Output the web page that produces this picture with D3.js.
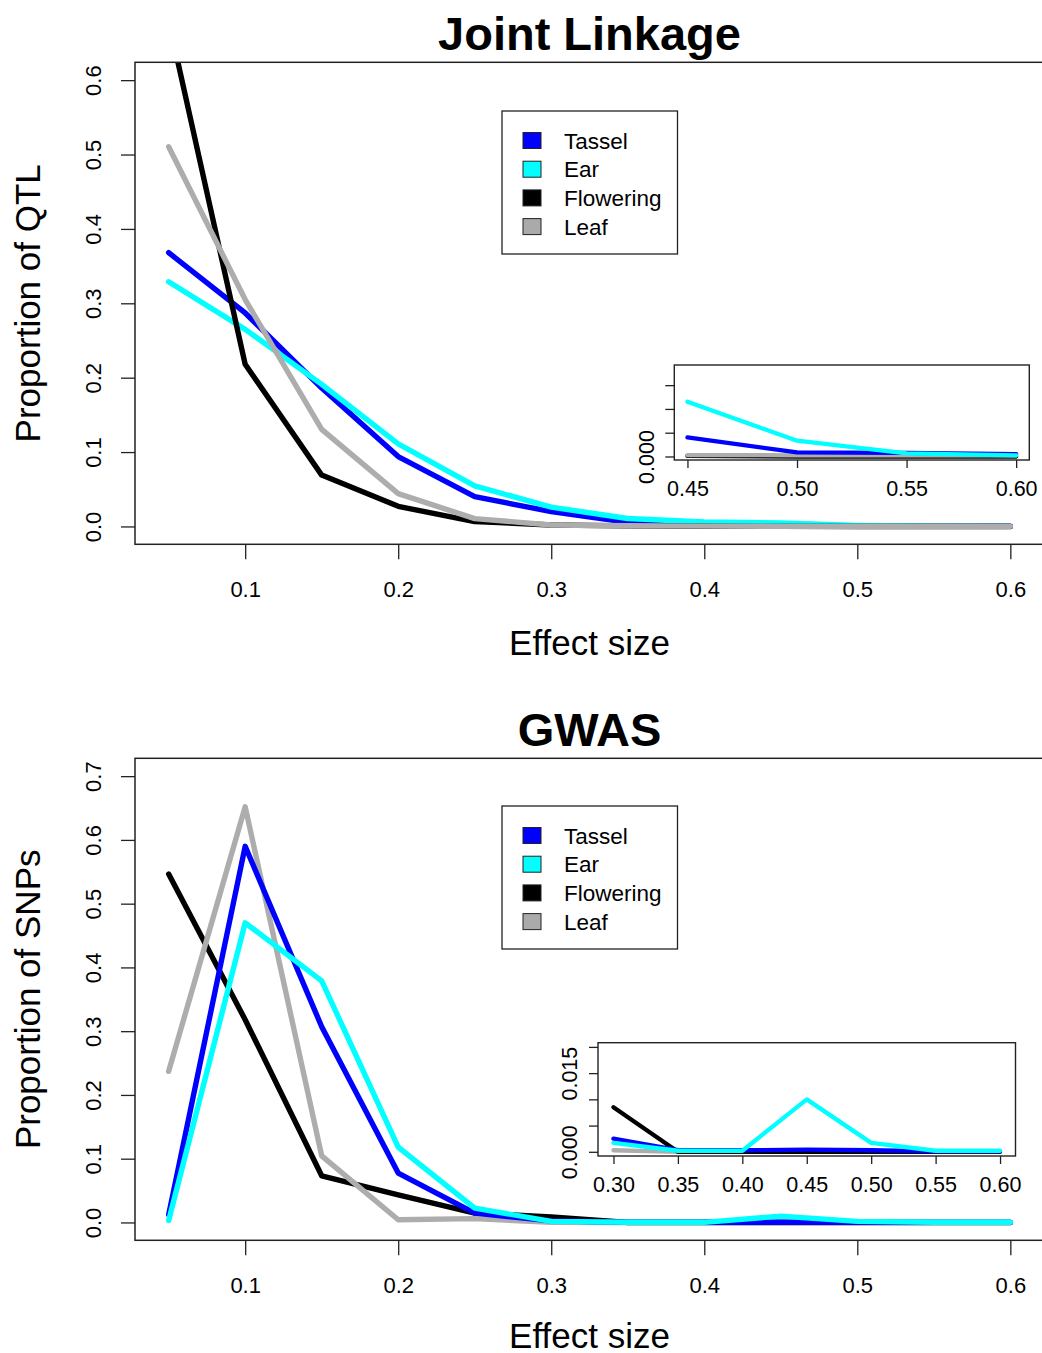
<!DOCTYPE html>
<html>
<head>
<meta charset="utf-8">
<script src="https://cdn.jsdelivr.net/npm/d3@7"></script>
<style>
  html, body { margin: 0; padding: 0; background: #fff; }
  svg { display: block; }
  text { font-family: "Liberation Sans", Arial, Helvetica, sans-serif; fill: #000; }
</style>
</head>
<body>
<div id="chart"></div>
<script>
// ---------------- data ----------------
const effectSize = [0.05, 0.10, 0.15, 0.20, 0.25, 0.30, 0.35, 0.40, 0.45, 0.50, 0.55, 0.60];
const seriesNames = ["Tassel", "Ear", "Flowering", "Leaf"];
const seriesColors = ["#0000ff", "#00ffff", "#000000", "#adadad"];

// Joint Linkage: proportion of QTL
const jlTassel    = [0.368, 0.287, 0.186, 0.094, 0.040, 0.020, 0.0055, 0.0028, 0.0016, 0.00034, 0.0003, 0.0002];
const jlEar       = [0.329, 0.265, 0.191, 0.111, 0.0545, 0.026, 0.0107, 0.006, 0.0046, 0.00133, 0.00026, 0.0001];
const jlFlowering = [0.68, 0.218, 0.069, 0.027, 0.0065, 0.002, 0.0008, 0.0003, 0.00005, 0, 0, 0];
const jlLeaf      = [0.5105, 0.305, 0.1305, 0.0442, 0.0105, 0.002, 0.001, 0.0005, 0.00012, 0.0001, 0.0001, 0.0001];

// GWAS: proportion of SNPs
const gwasTassel    = [0.012, 0.590, 0.307, 0.0774, 0.0147, 0.0025, 0.0003, 0.0003, 0.0004, 0.0003, 0.0001, 0.0001];
const gwasEar       = [0.003, 0.470, 0.379, 0.118, 0.0225, 0.0017, 0.0002, 0.0002, 0.010, 0.0017, 0.0002, 0.0002];
const gwasFlowering = [0.5465, 0.318, 0.0732, 0.0434, 0.0147, 0.0085, 0, 0, 0, 0, 0, 0];
const gwasLeaf      = [0.237, 0.652, 0.1045, 0.0042, 0.006, 0.0003, 0, 0, 0, 0, 0, 0];

// tick values / labels
const mainXTicks = [0.1, 0.2, 0.3, 0.4, 0.5, 0.6];
const jlYTicks = [0.0, 0.1, 0.2, 0.3, 0.4, 0.5, 0.6];
const gwasYTicks = [0.0, 0.1, 0.2, 0.3, 0.4, 0.5, 0.6, 0.7];
const jlInsetXTicks = [0.45, 0.50, 0.55, 0.60];
const jlInsetYTicks = [0.000, 0.002, 0.004, 0.006];
const jlInsetYLabels = ["0.000", "", "", ""];
const gwasInsetXTicks = [0.30, 0.35, 0.40, 0.45, 0.50, 0.55, 0.60];
const gwasInsetYTicks = [0.000, 0.005, 0.010, 0.015, 0.020];
const gwasInsetYLabels = ["0.000", "", "", "0.015", ""];

// ---------------- drawing ----------------
const W = 1042, H = 1353;
const svg = d3.select("#chart").append("svg").attr("width", W).attr("height", H);
const FONT = '"Liberation Sans", Arial, Helvetica, sans-serif';

function rPad(lim) { // R-style 4% axis extension
  const d = (lim[1] - lim[0]) * 0.04;
  return [lim[0] - d, lim[1] + d];
}

let clipId = 0;
function plotLines(g, x, y, seriesList, order, xMin, width, box) {
  const id = "clip" + (clipId++);
  svg.append("clipPath").attr("id", id).append("rect")
    .attr("x", box.x0).attr("y", box.y0).attr("width", box.x1 - box.x0).attr("height", box.y1 - box.y0);
  const lg = g.append("g").attr("clip-path", `url(#${id})`);
  const line = d3.line().x(d => x(d[0])).y(d => y(d[1]));
  order.forEach(i => {
    const pts = effectSize.map((e, k) => [e, seriesList[i][k]]).filter(p => p[0] >= xMin - 1e-9);
    lg.append("path").attr("d", line(pts)).attr("fill", "none")
      .attr("stroke", seriesColors[i]).attr("stroke-width", width)
      .attr("stroke-linecap", "round").attr("stroke-linejoin", "round");
  });
}

function styleAxis(ag, fontSize) {
  ag.select(".domain").remove();
  ag.selectAll(".tick line").attr("stroke", "#222").attr("stroke-width", 1.3);
  ag.selectAll(".tick text").attr("font-size", fontSize).attr("font-family", FONT).attr("fill", "#000");
}

function drawPanel(cfg) {
  const g = svg.append("g");
  const box = cfg.box;
  const x = d3.scaleLinear().domain(rPad([0.05, 0.6])).range([box.x0, box.x1]);
  const y = d3.scaleLinear().domain(rPad(cfg.ylim)).range([box.y1, box.y0]);

  // lines
  plotLines(g, x, y, cfg.series, cfg.order, 0, 5.4, box);

  // box
  g.append("rect").attr("x", box.x0).attr("y", box.y0)
    .attr("width", box.x1 - box.x0).attr("height", box.y1 - box.y0)
    .attr("fill", "none").attr("stroke", "#222").attr("stroke-width", 1.5);

  // x axis
  const xa = g.append("g").attr("transform", `translate(0,${box.y1})`)
    .call(d3.axisBottom(x).tickValues(mainXTicks).tickSize(15).tickPadding(22).tickFormat(d3.format(".1f")));
  styleAxis(xa, 22);

  // y axis
  const ya = g.append("g").attr("transform", `translate(${box.x0},0)`)
    .call(d3.axisLeft(y).tickValues(cfg.yTicks).tickSize(14).tickFormat(d3.format(".1f")));
  styleAxis(ya, 22);
  ya.selectAll(".tick text").attr("x", null).attr("dy", null).attr("text-anchor", "middle")
    .attr("transform", "translate(-34.5,0) rotate(-90)");

  // titles
  g.append("text").attr("x", (box.x0 + box.x1) / 2).attr("y", box.y0 - 12.5)
    .attr("text-anchor", "middle").attr("font-size", 47).attr("font-weight", "bold").text(cfg.title);
  g.append("text").attr("x", (box.x0 + box.x1) / 2).attr("y", box.y1 + cfg.xlabelGap)
    .attr("text-anchor", "middle").attr("font-size", 35).text("Effect size");
  g.append("text").attr("transform", `translate(40,${(box.y0 + box.y1) / 2}) rotate(-90)`)
    .attr("text-anchor", "middle").attr("font-size", 35).text(cfg.ylabel);

  // legend
  const L = cfg.legend;
  g.append("rect").attr("x", L.x0).attr("y", L.y0).attr("width", L.x1 - L.x0).attr("height", L.y1 - L.y0)
    .attr("fill", "#fff").attr("stroke", "#222").attr("stroke-width", 1.3);
  seriesNames.forEach((name, i) => {
    const cy = L.y0 + 29.5 + i * 28.7;
    g.append("rect").attr("x", L.x0 + 21).attr("y", cy - 8).attr("width", 18).attr("height", 16)
      .attr("fill", seriesColors[i] === "#adadad" ? "#aaaaaa" : seriesColors[i])
      .attr("stroke", "#222").attr("stroke-width", 1);
    g.append("text").attr("x", L.x0 + 62).attr("y", cy + 8).attr("font-size", 22.5).text(name);
  });

  // inset
  const I = cfg.inset;
  const ib = I.box;
  const ix = d3.scaleLinear().domain(rPad([I.xTicks[0], I.xTicks[I.xTicks.length - 1]])).range([ib.x0, ib.x1]);
  const iy = d3.scaleLinear().domain(rPad(I.ylim)).range([ib.y1, ib.y0]);
  g.append("rect").attr("x", ib.x0).attr("y", ib.y0).attr("width", ib.x1 - ib.x0).attr("height", ib.y1 - ib.y0)
    .attr("fill", "#fff");
  plotLines(g, ix, iy, cfg.series, I.order, I.xTicks[0], 4.3, ib);
  g.append("rect").attr("x", ib.x0).attr("y", ib.y0).attr("width", ib.x1 - ib.x0).attr("height", ib.y1 - ib.y0)
    .attr("fill", "none").attr("stroke", "#222").attr("stroke-width", 1.4);
  const ixa = g.append("g").attr("transform", `translate(0,${ib.y1})`)
    .call(d3.axisBottom(ix).tickValues(I.xTicks).tickSize(8).tickPadding(13).tickFormat(d3.format(".2f")));
  styleAxis(ixa, 21.5);
  const iya = g.append("g").attr("transform", `translate(${ib.x0},0)`)
    .call(d3.axisLeft(iy).tickValues(I.yTicks).tickSize(9).tickFormat((d, k) => I.yLabels[k]));
  styleAxis(iya, 21.5);
  iya.selectAll(".tick text").attr("x", null).attr("dy", null).attr("text-anchor", "middle")
    .attr("transform", `translate(${I.yLabelOffset},0) rotate(-90)`);
}

drawPanel({
  title: "Joint Linkage",
  ylabel: "Proportion of QTL",
  ylim: [0, 0.6],
  yTicks: jlYTicks,
  xlabelGap: 111,
  box: { x0: 135, x1: 1044, y0: 62.3, y1: 544.3 },
  series: [jlTassel, jlEar, jlFlowering, jlLeaf],
  order: [0, 1, 2, 3],
  legend: { x0: 502, x1: 677.5, y0: 111, y1: 254 },
  inset: {
    box: { x0: 674.3, x1: 1029.3, y0: 365, y1: 460 },
    xTicks: jlInsetXTicks, yTicks: jlInsetYTicks, yLabels: jlInsetYLabels,
    ylim: [0, 0.0074], order: [2, 3, 0, 1], yLabelOffset: -20
  }
});

drawPanel({
  title: "GWAS",
  ylabel: "Proportion of SNPs",
  ylim: [0, 0.7],
  yTicks: gwasYTicks,
  xlabelGap: 108,
  box: { x0: 135, x1: 1044, y0: 758.3, y1: 1240.3 },
  series: [gwasTassel, gwasEar, gwasFlowering, gwasLeaf],
  order: [2, 3, 0, 1],
  legend: { x0: 502, x1: 677.5, y0: 806, y1: 949 },
  inset: {
    box: { x0: 598, x1: 1015.5, y0: 1042.7, y1: 1156 },
    xTicks: gwasInsetXTicks, yTicks: gwasInsetYTicks, yLabels: gwasInsetYLabels,
    ylim: [0, 0.02], order: [3, 2, 0, 1], yLabelOffset: -21
  }
});
</script>
</body>
</html>
